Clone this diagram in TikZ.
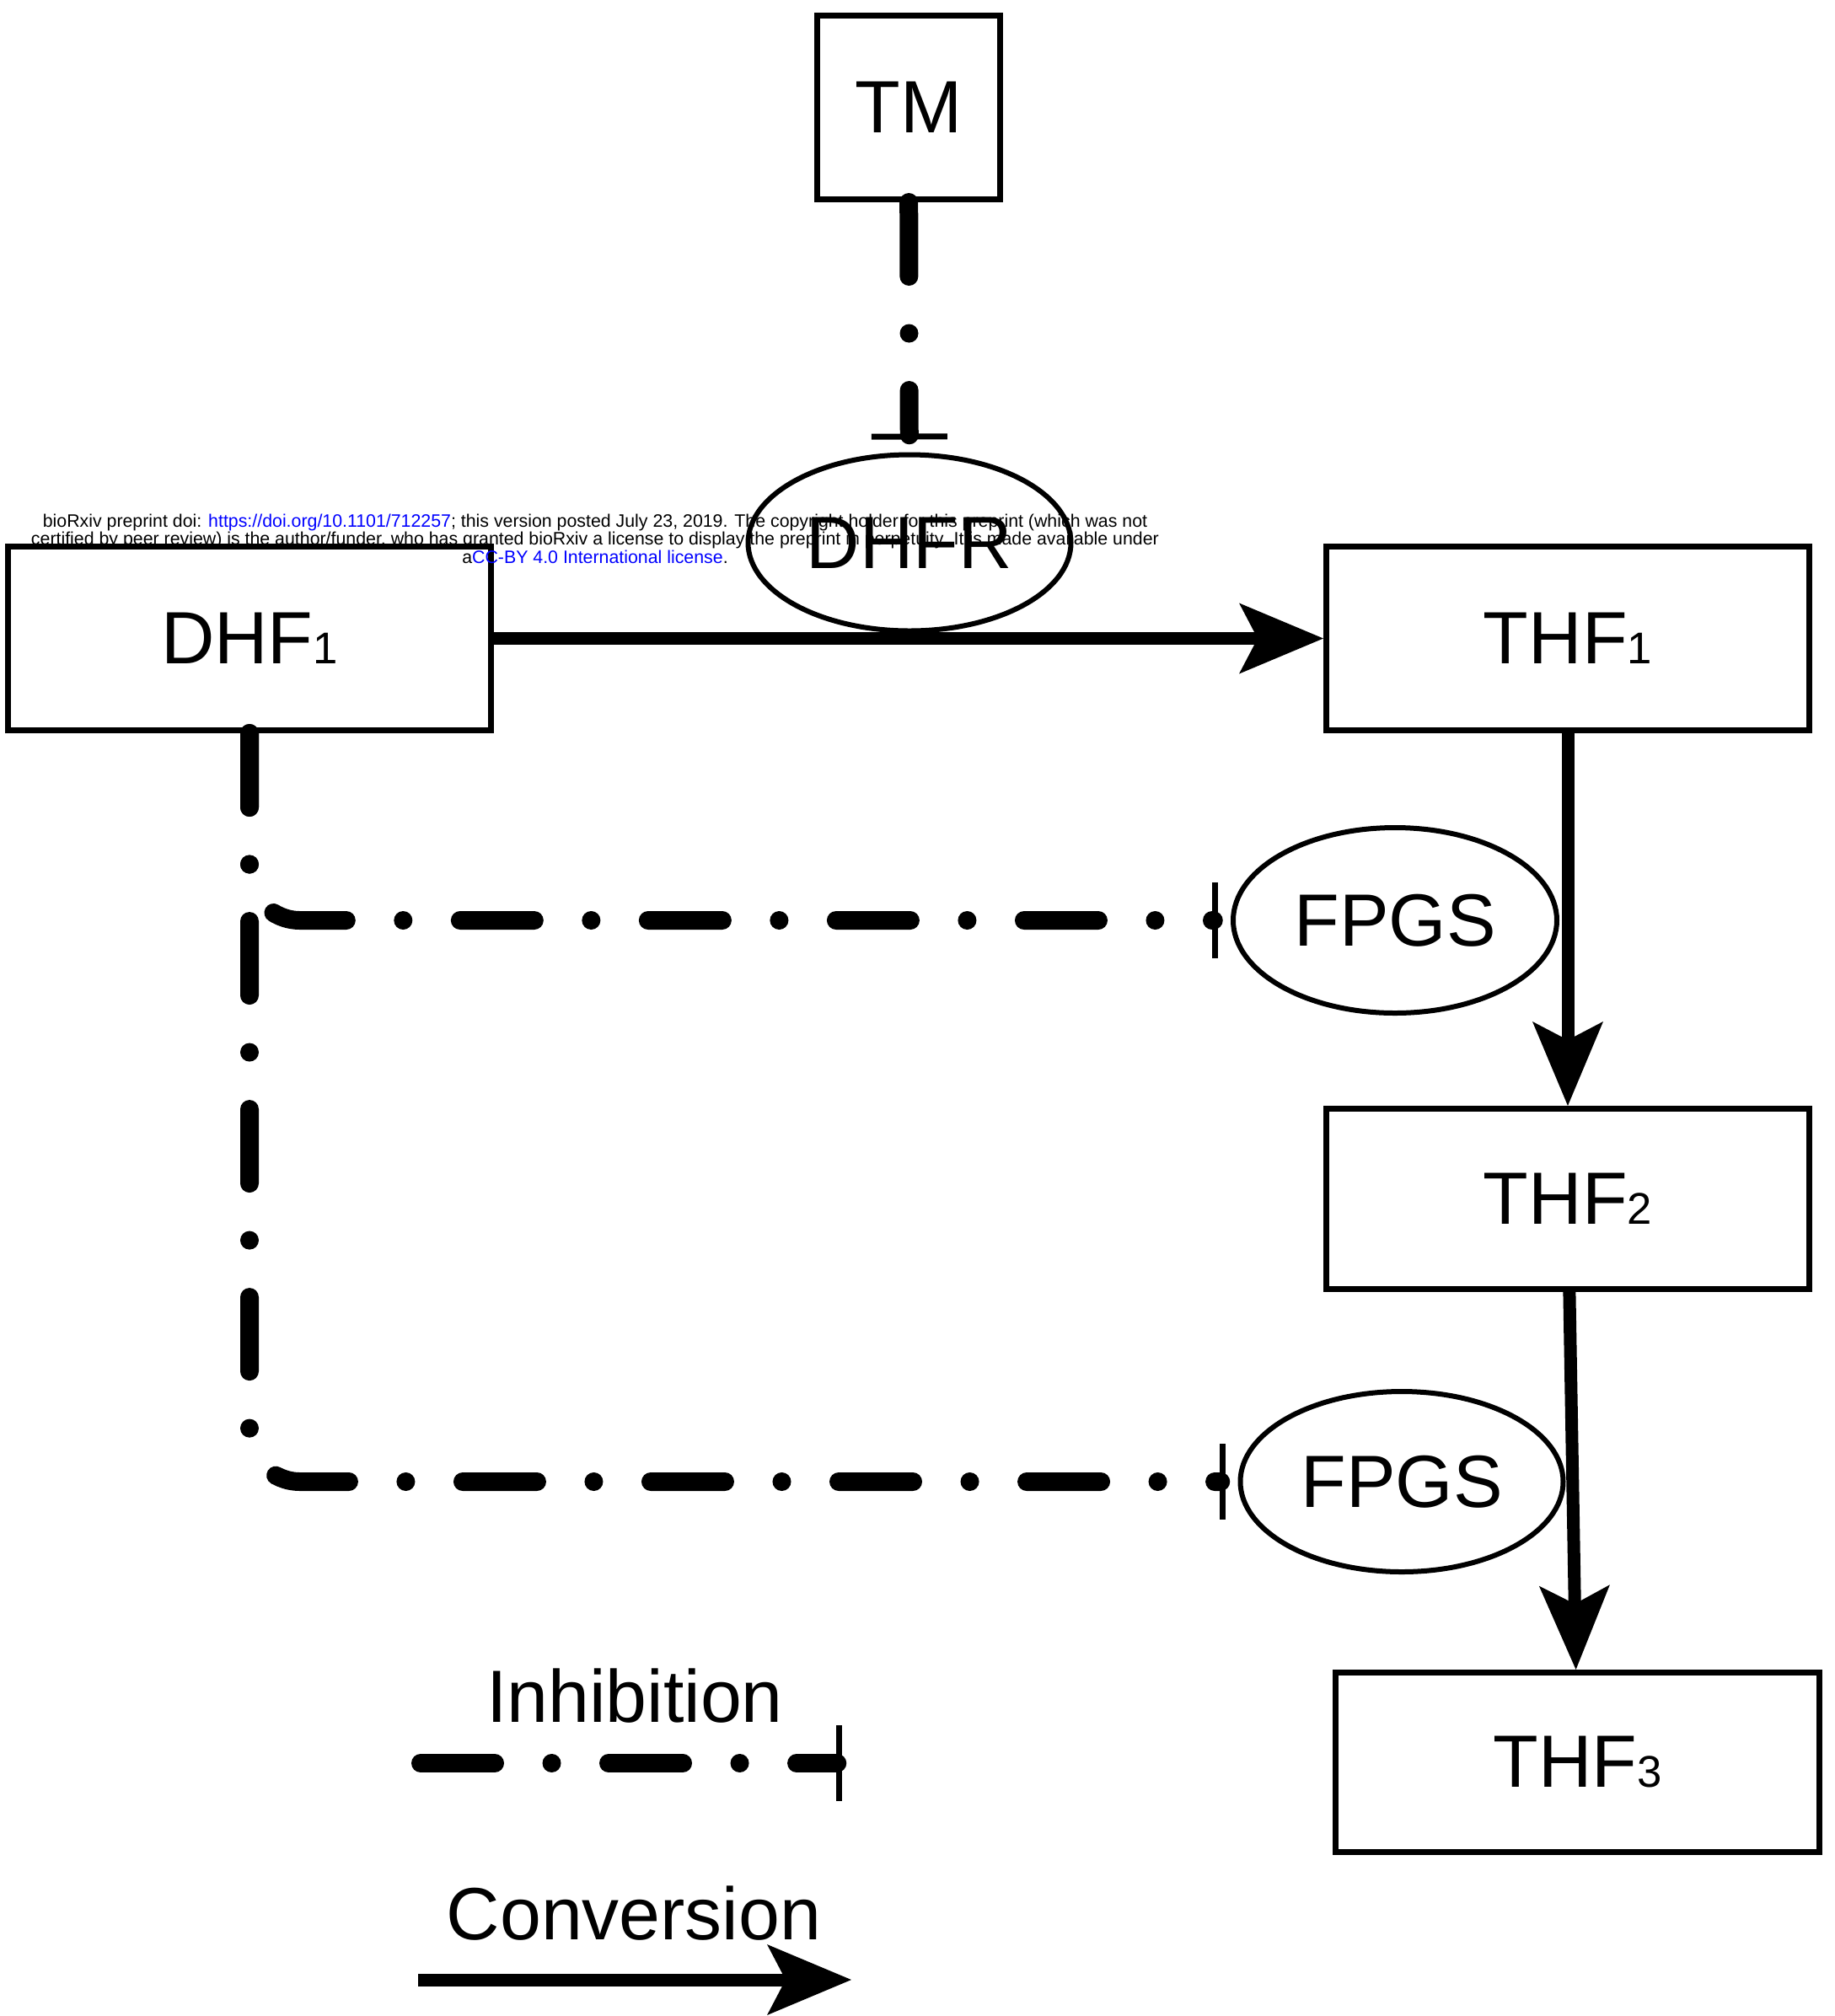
\documentclass[tikz,border=0pt]{standalone}
\usepackage{fontspec}
\setmainfont{Liberation Sans}
\usepackage{xcolor}
\usetikzlibrary{shapes.geometric, arrows.meta, positioning}
\definecolor{linkblue}{RGB}{0,0,255}
\newcommand{\folidx}[1]{{\fontsize{15}{15}\selectfont #1}}

\begin{document}
\begin{tikzpicture}[
        y=-1cm,
        species/.style={rectangle, draw, line width=0.07cm, minimum width=5.73cm,
                        minimum height=2.16cm, inner sep=0pt, font=\fontsize{25}{30}\selectfont},
        enzyme/.style={ellipse, draw, line width=0.06cm, minimum width=3.84cm,
                       minimum height=2.16cm, inner sep=0pt, font=\fontsize{25}{30}\selectfont},
        legend/.style={font=\fontsize{25}{30}\selectfont},
        conversion/.style={-{Stealth[length=1.0cm, width=0.84cm, inset=0.22cm, line width=0pt]},
                           line width=0.15cm},
        inhibition/.style={-{Bar[width=0.9cm, line width=0.07cm]}, line width=0.22cm, line cap=round,
                           dash pattern=on 0.88cm off 0.675cm on 0.01pt off 0.675cm,
                           rounded corners=0.6cm}
    ]
        \useasboundingbox (0,0) rectangle (21.77,23.92);

        \node[species, minimum width=2.17cm, minimum height=2.18cm] (tm) at (10.78,1.275) {TM};
        \node[enzyme, minimum width=3.83cm, minimum height=2.09cm] (dhfr) at (10.79,6.44) {DHFR};
        \node[species, minimum height=2.18cm] (dhf1) at (2.96,7.575) {DHF\folidx{1}};
        \node[species, minimum height=2.18cm] (thf1) at (18.60,7.575) {THF\folidx{1}};
        \node[enzyme, minimum height=2.20cm] (fpgsA) at (16.55,10.92) {FPGS};
        \node[species, minimum height=2.14cm] (thf2) at (18.60,14.225) {THF\folidx{2}};
        \node[enzyme, minimum width=3.83cm, minimum height=2.14cm] (fpgsB) at (16.63,17.58) {FPGS};
        \node[species, minimum width=5.74cm, minimum height=2.13cm] (thf3) at (18.715,20.91) {THF\folidx{3}};

        \node[legend] (inhibLabel) at (7.53,20.12) {Inhibition};
        \coordinate (inhibStart) at (4.99,20.92);
        \coordinate (inhibEnd) at (9.985,20.92);
        \node[legend] (convLabel) at (7.52,22.70) {Conversion};
        \coordinate (convStart) at (4.96,23.49);
        \coordinate (convEnd) at (10.10,23.49);

        \draw[conversion] (dhf1) -- (thf1);
        \draw[conversion] (thf1) -- (thf2);
        \draw[conversion] (thf2) -- (thf3);
        \draw[inhibition, shorten >=0.15cm] (tm) -- (dhfr);
        \draw[inhibition, shorten >=0.15cm] (dhf1.south) |- (fpgsA);
        \draw[inhibition, shorten >=0.15cm] (dhf1.south) |- (fpgsB);
        \draw[inhibition] (inhibStart) -- (inhibEnd);
        \draw[conversion] (convStart) -- (convEnd);

        \node[align=center, inner sep=0pt, font=\fontsize{6.07}{6.1}\selectfont] (preprint) at (7.06,6.39)
            {bioRxiv preprint doi: \textcolor{linkblue}{https://doi.org/10.1101/712257}; this version posted July 23, 2019. The copyright holder for this preprint (which was not\\
             certified by peer review) is the author/funder, who has granted bioRxiv a license to display the preprint in perpetuity. It is made available under\\
             a\textcolor{linkblue}{CC-BY 4.0 International license}.};
    \end{tikzpicture}
\end{document}
